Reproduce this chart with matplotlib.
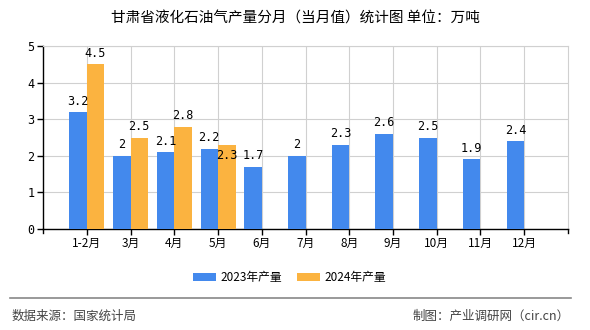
import matplotlib
matplotlib.use("Agg")
import matplotlib.pyplot as plt
import numpy as np

plt.rcParams["font.family"] = ["Noto Sans CJK SC", "DejaVu Sans"]

months = ["1-2月", "3月", "4月", "5月", "6月", "7月", "8月", "9月", "10月", "11月", "12月"]
prod_2023 = [3.2, 2.0, 2.1, 2.2, 1.7, 2.0, 2.3, 2.6, 2.5, 1.9, 2.4]
prod_2024 = [4.5, 2.5, 2.8, 2.3]

C23 = "#4389ED"
C24 = "#FBB340"
MONO = ["DejaVu Sans Mono"]

fig = plt.figure(figsize=(5.9, 3.3), dpi=100)
ax = fig.add_axes([0.0729, 0.306, 0.8898, 0.5545])

x = np.arange(len(months))
w = 0.4
ax.bar(x - w / 2, prod_2023, w, color=C23, label="2023年产量", zorder=3)
x24 = x[:len(prod_2024)]
ax.bar(x24 + w / 2, prod_2024, w, color=C24, label="2024年产量", zorder=3)

for xi, v in zip(x, prod_2023):
    ax.text(xi - w / 2, v + 0.12, f"{v:g}", ha="center", va="bottom", fontsize=8.5, family=MONO)
for xi, v in zip(x24, prod_2024):
    # the 5月 label sits low in the source (collision avoidance)
    dy = -0.48 if v == 2.3 else 0.12
    ax.text(xi + w / 2, v + dy, f"{v:g}", ha="center", va="bottom", fontsize=8.5, family=MONO)

ax.set_xlim(-1, len(months))
ax.set_ylim(0, 5)
ax.set_xticks(x)
ax.set_xticklabels(months, fontsize=8.5)
ax.set_yticks(range(6))
ax.set_yticklabels([str(i) for i in range(6)], fontsize=8.5, family=MONO)
ax.tick_params(axis="both", length=4, width=1, color="black", pad=2)

ax.grid(True, color="#d0d0d0", lw=0.8, zorder=0)
for s in ["top", "right"]:
    ax.spines[s].set_color("#d0d0d0")
    ax.spines[s].set_linewidth(0.8)
for s in ["left", "bottom"]:
    ax.spines[s].set_color("black")
    ax.spines[s].set_linewidth(1)
# end ticks on the bottom axis
ax.plot([-1, -1], [0, -0.1], color="black", lw=1, clip_on=False)
ax.plot([len(months), len(months)], [0, -0.1], color="black", lw=1, clip_on=False)

fig.text(0.5, 0.945, "甘肃省液化石油气产量分月（当月值）统计图 单位：万吨",
         ha="center", va="center", fontsize=10.5)

ax.legend(loc="center", bbox_to_anchor=(0.47, -0.265), ncol=2, frameon=False,
          fontsize=8.5, handlelength=1.9, handleheight=0.7, handletextpad=0.4,
          columnspacing=1.3)

fig.add_artist(plt.Line2D([0.017, 0.968], [0.097, 0.097], color="#888888", lw=1.2))
fig.text(0.02, 0.042, "数据来源：国家统计局", ha="left", va="center", fontsize=9, color="#444444")
fig.text(0.966, 0.042, "制图：产业调研网（cir.cn）", ha="right", va="center", fontsize=9, color="#444444")

fig.savefig("out.png", dpi=100, facecolor="white")
